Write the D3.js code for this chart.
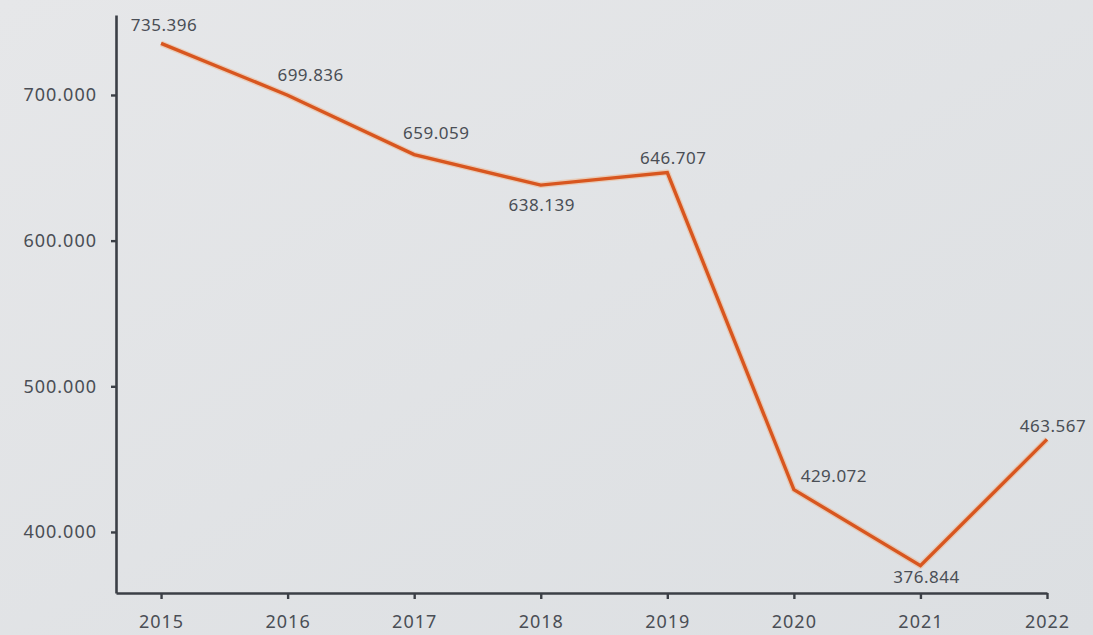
<!DOCTYPE html>
<html>
<head>
<meta charset="utf-8">
<script src="https://cdn.jsdelivr.net/npm/d3@7"></script>
<style>
  html, body { margin: 0; padding: 0; background: #e1e3e6; }
  svg { display: block; }
  text { font-family: "Noto Sans", sans-serif; fill: #4a4e55; }
</style>
</head>
<body>
<script>
// Daten
const years = ['2015', '2016', '2017', '2018', '2019', '2020', '2021', '2022'];
const values = [735396, 699836, 659059, 638139, 646707, 429072, 376844, 463567];
const yTicks = [400000, 500000, 600000, 700000];

// Beschriftung: Versatz der Werte-Labels zum Punkt
const labelOffsets = [
    [3, -18], [23, -20], [22, -22], [1, 20],
    [6, -15], [40, -14], [6, 11], [6, -13]
];

const width = 1093, height = 635;

const fmt = d3.formatLocale({ decimal: ',', thousands: '.', grouping: [3], currency: ['', ''] })
    .format(',');

const svg = d3.select('body').append('svg')
    .attr('width', width)
    .attr('height', height);

const grad = svg.append('defs').append('linearGradient')
    .attr('id', 'bg')
    .attr('x1', 0).attr('y1', 0).attr('x2', 1).attr('y2', 1);
grad.append('stop').attr('offset', '0%').attr('stop-color', '#e6e7e9');
grad.append('stop').attr('offset', '100%').attr('stop-color', '#dcdfe2');

svg.append('rect')
    .attr('width', width)
    .attr('height', height)
    .attr('fill', 'url(#bg)');

const x = d3.scalePoint()
    .domain(years)
    .range([116, 1047])
    .padding(0.178)
    .align(1);

const y = d3.scaleLinear()
    .domain([358100, 754900])
    .range([593, 15]);

// y-Achse
const yAxis = svg.append('g')
    .attr('transform', 'translate(116,0)')
    .call(d3.axisLeft(y)
        .tickValues(yTicks)
        .tickFormat(fmt)
        .tickSize(5)
        .tickSizeOuter(0)
        .tickPadding(14));

// x-Achse
const xAxis = svg.append('g')
    .attr('transform', 'translate(0,593)')
    .call(d3.axisBottom(x)
        .tickSize(6)
        .tickSizeOuter(0)
        .tickPadding(16));

[yAxis, xAxis].forEach(g => {
    g.select('.domain').attr('stroke', '#3b3f46').attr('stroke-width', 2.6);
    g.selectAll('.tick line').attr('stroke', '#3b3f46').attr('stroke-width', 2.4);
    g.selectAll('.tick text')
        .attr('fill', '#4a4e55')
        .style('font-size', '18px')
        .style('letter-spacing', '1px');
});

// Linie
const data = years.map((yr, i) => ({ year: yr, value: values[i] }));

const line = d3.line()
    .x(d => x(d.year))
    .y(d => y(d.value));

svg.append('path')
    .datum(data)
    .attr('fill', 'none')
    .attr('stroke', '#f3a56f')
    .attr('stroke-opacity', 0.4)
    .attr('stroke-width', 6)
    .attr('stroke-linejoin', 'round')
    .attr('d', line);

svg.append('path')
    .datum(data)
    .attr('fill', 'none')
    .attr('stroke', '#d8561f')
    .attr('stroke-width', 3.4)
    .attr('stroke-linejoin', 'miter')
    .attr('d', line);

// Werte-Labels
svg.append('g')
    .selectAll('text')
    .data(data)
    .join('text')
    .attr('x', (d, i) => x(d.year) + labelOffsets[i][0])
    .attr('y', (d, i) => y(d.value) + labelOffsets[i][1])
    .attr('dy', '0.35em')
    .attr('text-anchor', 'middle')
    .style('font-size', '17px')
    .style('letter-spacing', '0.5px')
    .text(d => fmt(d.value));
</script>
</body>
</html>
